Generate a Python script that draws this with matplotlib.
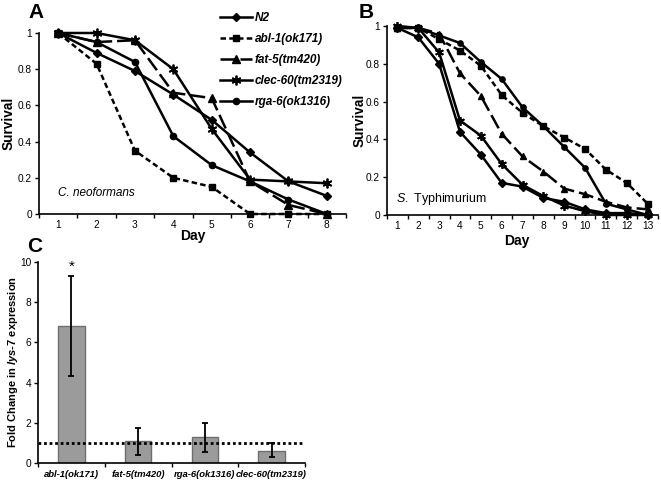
import matplotlib
matplotlib.use("Agg")
import matplotlib.pyplot as plt
import numpy as np

plt.rcParams['font.family'] = ['Liberation Sans', 'DejaVu Sans']
plt.rcParams['mathtext.fontset'] = 'custom'
plt.rcParams['mathtext.it'] = 'Liberation Sans:italic'
plt.rcParams['mathtext.rm'] = 'Liberation Sans'
plt.rcParams['mathtext.bf'] = 'Liberation Sans:italic:bold'

# ---------------- data ----------------
strains = ["N2", "abl-1(ok171)", "fat-5(tm420)", "clec-60(tm2319)", "rga-6(ok1316)"]

days_a = [1, 2, 3, 4, 5, 6, 7, 8]
a_n2 = [1.0, 0.89, 0.79, 0.66, 0.52, 0.34, 0.18, 0.10]
a_abl1 = [1.0, 0.83, 0.35, 0.20, 0.15, 0.0, 0.0, 0.0]
a_fat5 = [1.0, 0.95, 0.96, 0.67, 0.64, 0.18, 0.05, 0.0]
a_clec60 = [1.0, 1.0, 0.96, 0.80, 0.47, 0.19, 0.18, 0.17]
a_rga6 = [1.0, 0.95, 0.84, 0.43, 0.27, 0.18, 0.08, 0.0]

days_b = [1, 2, 3, 4, 5, 6, 7, 8, 9, 10, 11, 12, 13]
b_n2 = [0.99, 0.94, 0.80, 0.44, 0.32, 0.17, 0.15, 0.09, 0.07, 0.03, 0.01, 0.01, 0.0]
b_abl1 = [0.99, 0.99, 0.93, 0.87, 0.79, 0.635, 0.54, 0.47, 0.41, 0.35, 0.24, 0.17, 0.06]
b_fat5 = [0.99, 0.99, 0.96, 0.75, 0.63, 0.43, 0.31, 0.23, 0.14, 0.11, 0.07, 0.04, 0.03]
b_clec60 = [1.0, 0.99, 0.86, 0.50, 0.42, 0.27, 0.16, 0.10, 0.05, 0.02, 0.0, 0.0, 0.0]
b_rga6 = [0.99, 0.99, 0.95, 0.91, 0.81, 0.72, 0.57, 0.47, 0.36, 0.25, 0.06, 0.03, 0.0]

c_labels = ["abl-1(ok171)", "fat-5(tm420)", "rga-6(ok1316)", "clec-60(tm2319)"]
c_values = [6.8, 1.08, 1.27, 0.61]
c_err_hi = [9.28, 1.74, 2.01, 0.98]
c_err_lo = [4.35, 0.42, 0.53, 0.28]

# ---------------- styles ----------------
styles = {
    "N2": dict(marker='D', ls='-', ms=4.5),
    "abl-1(ok171)": dict(marker='s', ls=(0, (2.2, 1.3)), ms=4.5),
    "fat-5(tm420)": dict(marker='^', ls=(0, (6, 2)), ms=5.5),
    "clec-60(tm2319)": dict(marker=(6, 2, 0), ls='-', ms=7, mew=1.3),
    "rga-6(ok1316)": dict(marker='o', ls='-', ms=4.5),
}

W, H = 661, 484
fig = plt.figure(figsize=(W / 100, H / 100), dpi=100)

TICK = 7.3

def box(l, r, t, b):
    return [l / W, 1 - b / H, (r - l) / W, (b - t) / H]

def style_axes(ax):
    for s in ['top', 'right']:
        ax.spines[s].set_visible(False)
    for s in ['left', 'bottom']:
        ax.spines[s].set_linewidth(1.2)
    ax.tick_params(axis='both', which='major', direction='out', length=3, width=1.0,
                   labelsize=TICK, pad=2)

def cat_xaxis(ax, n, pad):
    ax.set_xlim(0.5, n + 0.5)
    ax.set_xticks(np.arange(0.5, n + 1, 1.0))
    ax.set_xticklabels([])
    ax.set_xticks(np.arange(1, n + 1), minor=True)
    ax.set_xticklabels([str(i) for i in range(1, n + 1)], minor=True)
    ax.tick_params(axis='x', which='minor', length=0, labelsize=TICK, pad=pad)

def fmt(v):
    return "0" if v == 0 else ("1" if v == 1 else f"{v:.1f}")

yt = [0, 0.2, 0.4, 0.6, 0.8, 1.0]

# ---------------- Panel A ----------------
axA = fig.add_axes(box(39, 346, 33, 214))
series_a = [a_n2, a_abl1, a_fat5, a_clec60, a_rga6]
handles = []
for name, ys in zip(strains, series_a):
    st = styles[name]
    ln, = axA.plot(days_a, ys, color='black', lw=1.8, linestyle=st['ls'], marker=st['marker'],
                   ms=st['ms'], mew=st.get('mew', 1.0), clip_on=False)
    handles.append(ln)
axA.set_ylim(0, 1)
axA.set_yticks(yt)
axA.set_yticklabels([fmt(v) for v in yt])
cat_xaxis(axA, 8, 4)
style_axes(axA)
axA.set_ylabel("Survival", fontsize=9.8, fontweight='bold')
axA.yaxis.set_label_coords(-0.076, 0.5)
axA.set_xlabel("Day", fontsize=10, fontweight='bold')
axA.xaxis.set_label_coords(0.5, -0.085)
axA.text(1.0, 0.1, "C. neoformans", fontsize=8.5, style='italic')
fig.text(36 / W, 1 - 13 / H, "A", fontsize=15, fontweight='bold', ha='center', va='center')

leg = fig.legend(handles=handles, labels=strains, loc='upper left',
                 bbox_to_anchor=(212 / W, 1 - 4 / H), frameon=False,
                 prop=dict(size=8.5, weight='bold', style='italic'),
                 handlelength=2.7, handletextpad=0.2, labelspacing=0.75, borderpad=0.2)

# ---------------- Panel B ----------------
axB = fig.add_axes(box(387, 658, 26, 215))
series_b = [b_n2, b_abl1, b_fat5, b_clec60, b_rga6]
for name, ys in zip(strains, series_b):
    st = styles[name]
    axB.plot(days_b, ys, color='black', lw=1.8, linestyle=st['ls'], marker=st['marker'],
             ms=st['ms'] - 0.7, mew=st.get('mew', 1.0), clip_on=False)
axB.set_ylim(0, 1)
axB.set_yticks(yt)
axB.set_yticklabels([fmt(v) for v in yt])
cat_xaxis(axB, 13, 4)
style_axes(axB)
axB.set_ylabel("Survival", fontsize=9.8, fontweight='bold')
axB.yaxis.set_label_coords(-0.075, 0.5)
axB.set_xlabel("Day", fontsize=10, fontweight='bold')
axB.xaxis.set_label_coords(0.48, -0.10)
axB.text(0.95, 0.07, "$\\mathit{S.}$ Typhimurium", fontsize=9)
fig.text(366 / W, 1 - 12 / H, "B", fontsize=15, fontweight='bold', ha='center', va='center')

# ---------------- Panel C ----------------
axC = fig.add_axes(box(38, 305, 262, 463))
xc = np.arange(len(c_labels))
yerr = [np.array(c_values) - np.array(c_err_lo), np.array(c_err_hi) - np.array(c_values)]
axC.bar(xc, c_values, width=0.4, color='#9b9b9b', edgecolor='#6e6e6e', linewidth=1.0, zorder=2)
axC.errorbar(xc, c_values, yerr=yerr, fmt='none', ecolor='black', elinewidth=1.3,
             capsize=2, capthick=1.3, zorder=3)
axC.set_xlim(-0.5, len(c_labels) - 0.5)
axC.axhline(1.0, color='black', lw=2, ls=(0, (1, 1)), zorder=4)
axC.set_ylim(0, 10)
axC.set_yticks([0, 2, 4, 6, 8, 10])
axC.set_xticks(np.arange(-0.5, len(c_labels), 1.0))
axC.set_xticklabels([])
axC.set_xticks(xc, minor=True)
axC.set_xticklabels(c_labels, minor=True)
style_axes(axC)
axC.tick_params(axis='x', which='minor', length=0, labelsize=6.8, pad=5)
for lbl in axC.get_xticklabels(minor=True):
    lbl.set_fontstyle('italic')
    lbl.set_fontweight('bold')
axC.text(0, 9.75, "*", fontsize=11, ha='center', va='center')
axC.set_ylabel("Fold Change in $\\mathbf{lys}$-7 expression", fontsize=8,
               fontweight='bold')
axC.yaxis.set_label_coords(-0.067, 0.5)
fig.text(35 / W, 1 - 246 / H, "C", fontsize=15, fontweight='bold', ha='center', va='center')

fig.savefig("out.png", dpi=100)
